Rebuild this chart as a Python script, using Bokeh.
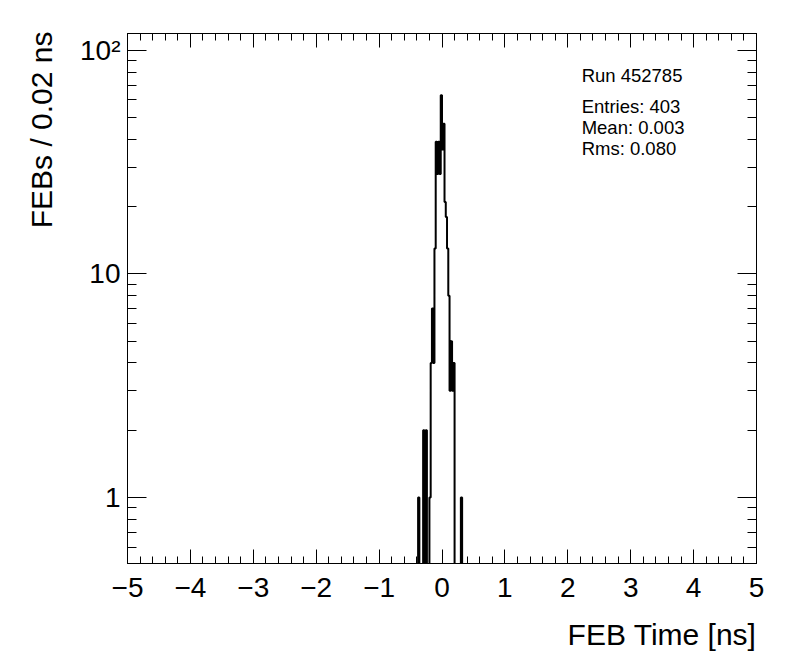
import numpy as np
from bokeh.plotting import figure
from bokeh.models import (Label, FixedTicker, LinearAxis, LogAxis, Range1d,
                          CustomJSTickFormatter, Title)
from bokeh.embed import file_html
from bokeh.resources import INLINE

# ---------------- data ----------------
x_min, x_max = -5.0, 5.0
bin_width = 0.02
# bin index k -> bin [k*0.02, (k+1)*0.02) ; counts per bin (non-empty bins only)
bin_index = [-19, -15, -13, -10, -9, -8, -7, -6, -5, -4, -3, -2, -1,
             0, 1, 2, 3, 4, 5, 6, 7, 8, 9, 15]
counts = [1, 2, 2, 1, 4, 7, 4, 13, 39, 28, 39, 28, 63,
          36, 47, 21, 18, 13, 8, 3, 5, 3, 4, 1]

x_ticks = [-5, -4, -3, -2, -1, 0, 1, 2, 3, 4, 5]
y_ticks = [1, 10, 100]
y_tick_labels = {1: "1", 10: "10", 100: "10²"}

x_title = "FEB Time [ns]"
y_title = "FEBs / 0.02 ns"
run_text = "Run 452785"
stats_lines = ["Entries: 403", "Mean: 0.003", "Rms: 0.080"]

y_min, y_max = 0.507, 119.0

# ---------------- histogram outline ----------------
nbins = int(round((x_max - x_min) / bin_width))
edges = np.linspace(x_min, x_max, nbins + 1)
full = np.zeros(nbins)
for k, c in zip(bin_index, counts):
    full[k + nbins // 2] = c
floor = y_min * 0.2          # empty bins drawn below the frame (clipped)
yvals = np.where(full > 0, full, floor)
step_x = edges
step_y = np.append(yvals, floor)

FONT = "Liberation Sans"

p = figure(width=796, height=672,
           x_range=Range1d(x_min, x_max), y_range=Range1d(y_min, y_max),
           y_axis_type="log", output_backend="svg", toolbar_location=None,
           min_border_left=127, min_border_right=40,
           min_border_top=33, min_border_bottom=109)
p.grid.visible = False
p.outline_line_color = "black"
p.outline_line_width = 1
p.background_fill_color = "white"
p.border_fill_color = "white"

p.step(step_x, step_y, mode="after", line_color="black", line_width=2)

# ticks
x_minor = [round(v, 1) for v in np.arange(x_min, x_max + 1e-9, 0.2)]
y_minor = []
for dec in [0.1, 1, 10, 100]:
    for m in range(2, 10):
        y_minor.append(m * dec)
xt = FixedTicker(ticks=x_ticks, minor_ticks=x_minor)
yt = FixedTicker(ticks=y_ticks, minor_ticks=y_minor)

xa = p.xaxis[0]
xa.ticker = xt
xa.major_tick_in = 14
xa.major_tick_out = 0
xa.minor_tick_in = 7
xa.minor_tick_out = 0
xa.major_label_text_font = FONT
xa.major_label_text_font_size = "28px"
xa.major_label_text_color = "black"
xa.major_label_standoff = 14
xa.formatter = CustomJSTickFormatter(code="return tick < 0 ? '\u2212' + Math.abs(tick) : '' + tick;")

ya = p.yaxis[0]
ya.ticker = yt
ya.major_tick_in = 19
ya.major_tick_out = 0
ya.minor_tick_in = 9
ya.minor_tick_out = 0
ya.major_label_text_font = FONT
ya.major_label_text_font_size = "28px"
ya.major_label_text_color = "black"
ya.major_label_standoff = 7
ya.formatter = CustomJSTickFormatter(
    args=dict(labels={str(k): v for k, v in y_tick_labels.items()}),
    code="const k = String(Math.round(tick)); return (k in labels) ? labels[k] : '';")

blank = CustomJSTickFormatter(code="return '';")
top = LinearAxis(ticker=xt, formatter=blank, major_tick_in=14, major_tick_out=0,
                 minor_tick_in=7, minor_tick_out=0, major_label_standoff=0)
p.add_layout(top, "above")
right = LogAxis(ticker=yt, formatter=blank, major_tick_in=19, major_tick_out=0,
                minor_tick_in=9, minor_tick_out=0, major_label_standoff=0)
p.add_layout(right, "right")

# axis titles, right/top aligned as in the reference
p.add_layout(Title(text=x_title, align="right", text_font=FONT,
                   text_font_size="30px", text_font_style="normal",
                   text_color="black", standoff=32), "below")
p.add_layout(Title(text=y_title, align="right", text_font=FONT,
                   text_font_size="30px", text_font_style="normal",
                   text_color="black", standoff=39, offset=-2), "left")

# stats text (data coordinates)
tx = 2.22
ty = [77.0, 56.0, 45.3, 36.5]
for txt, yy in zip([run_text] + stats_lines, ty):
    p.add_layout(Label(x=tx, y=yy, text=txt, text_font=FONT,
                       text_font_size="18.5px", text_baseline="middle",
                       text_align="left", text_color="black"))

open("out.html", "w").write(file_html(p, INLINE))
